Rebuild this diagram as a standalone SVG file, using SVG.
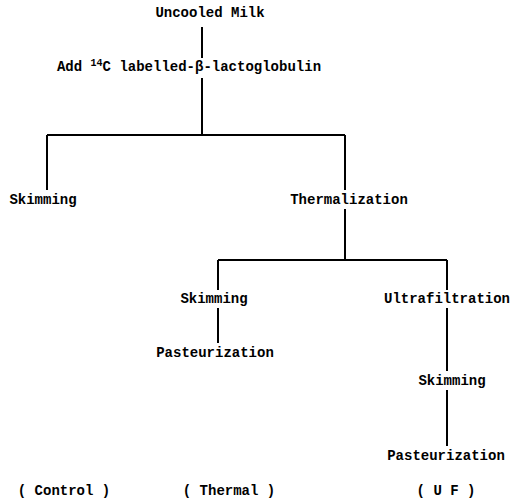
<svg xmlns="http://www.w3.org/2000/svg" width="527" height="500" viewBox="0 0 527 500">
<style>
text{font-family:"Liberation Mono","DejaVu Sans Mono",monospace;font-weight:bold;font-size:14px;fill:#000;text-anchor:middle}
.c line{stroke:#000;stroke-width:2}
</style>
<rect width="527" height="500" fill="#fff"/>
<g class="c" id="connectors">
<line x1="202" y1="27" x2="202" y2="58"/>
<line x1="202" y1="78" x2="202" y2="135"/>
<line x1="47" y1="135" x2="345" y2="135"/>
<line x1="47" y1="135" x2="47" y2="190"/>
<line x1="345" y1="135" x2="345" y2="190"/>
<line x1="345" y1="209" x2="345" y2="260"/>
<line x1="218" y1="260" x2="447" y2="260"/>
<line x1="218" y1="260" x2="218" y2="290"/>
<line x1="447" y1="260" x2="447" y2="290"/>
<line x1="218" y1="308" x2="218" y2="343"/>
<line x1="447" y1="308" x2="447" y2="371"/>
<line x1="447" y1="390" x2="447" y2="446"/>
</g>
<g id="uncooled"><text x="210" y="17">Uncooled Milk</text></g>
<g id="add"><text x="189" y="71">Add <tspan font-size="10" dy="-5">14</tspan><tspan dy="5">C labelled-β-lactoglobulin</tspan></text></g>
<g id="skim1"><text x="43" y="204">Skimming</text></g>
<g id="therm"><text x="349" y="204">Thermalization</text></g>
<g id="skim2"><text x="214" y="303">Skimming</text></g>
<g id="uf"><text x="447" y="303">Ultrafiltration</text></g>
<g id="past1"><text x="215" y="357">Pasteurization</text></g>
<g id="skim3"><text x="452" y="385">Skimming</text></g>
<g id="past2"><text x="446" y="460">Pasteurization</text></g>
<g id="control"><text x="64" y="495">( Control )</text></g>
<g id="thermal"><text x="229" y="495">( Thermal )</text></g>
<g id="ufl"><text x="446" y="495">( U F )</text></g>
</svg>
